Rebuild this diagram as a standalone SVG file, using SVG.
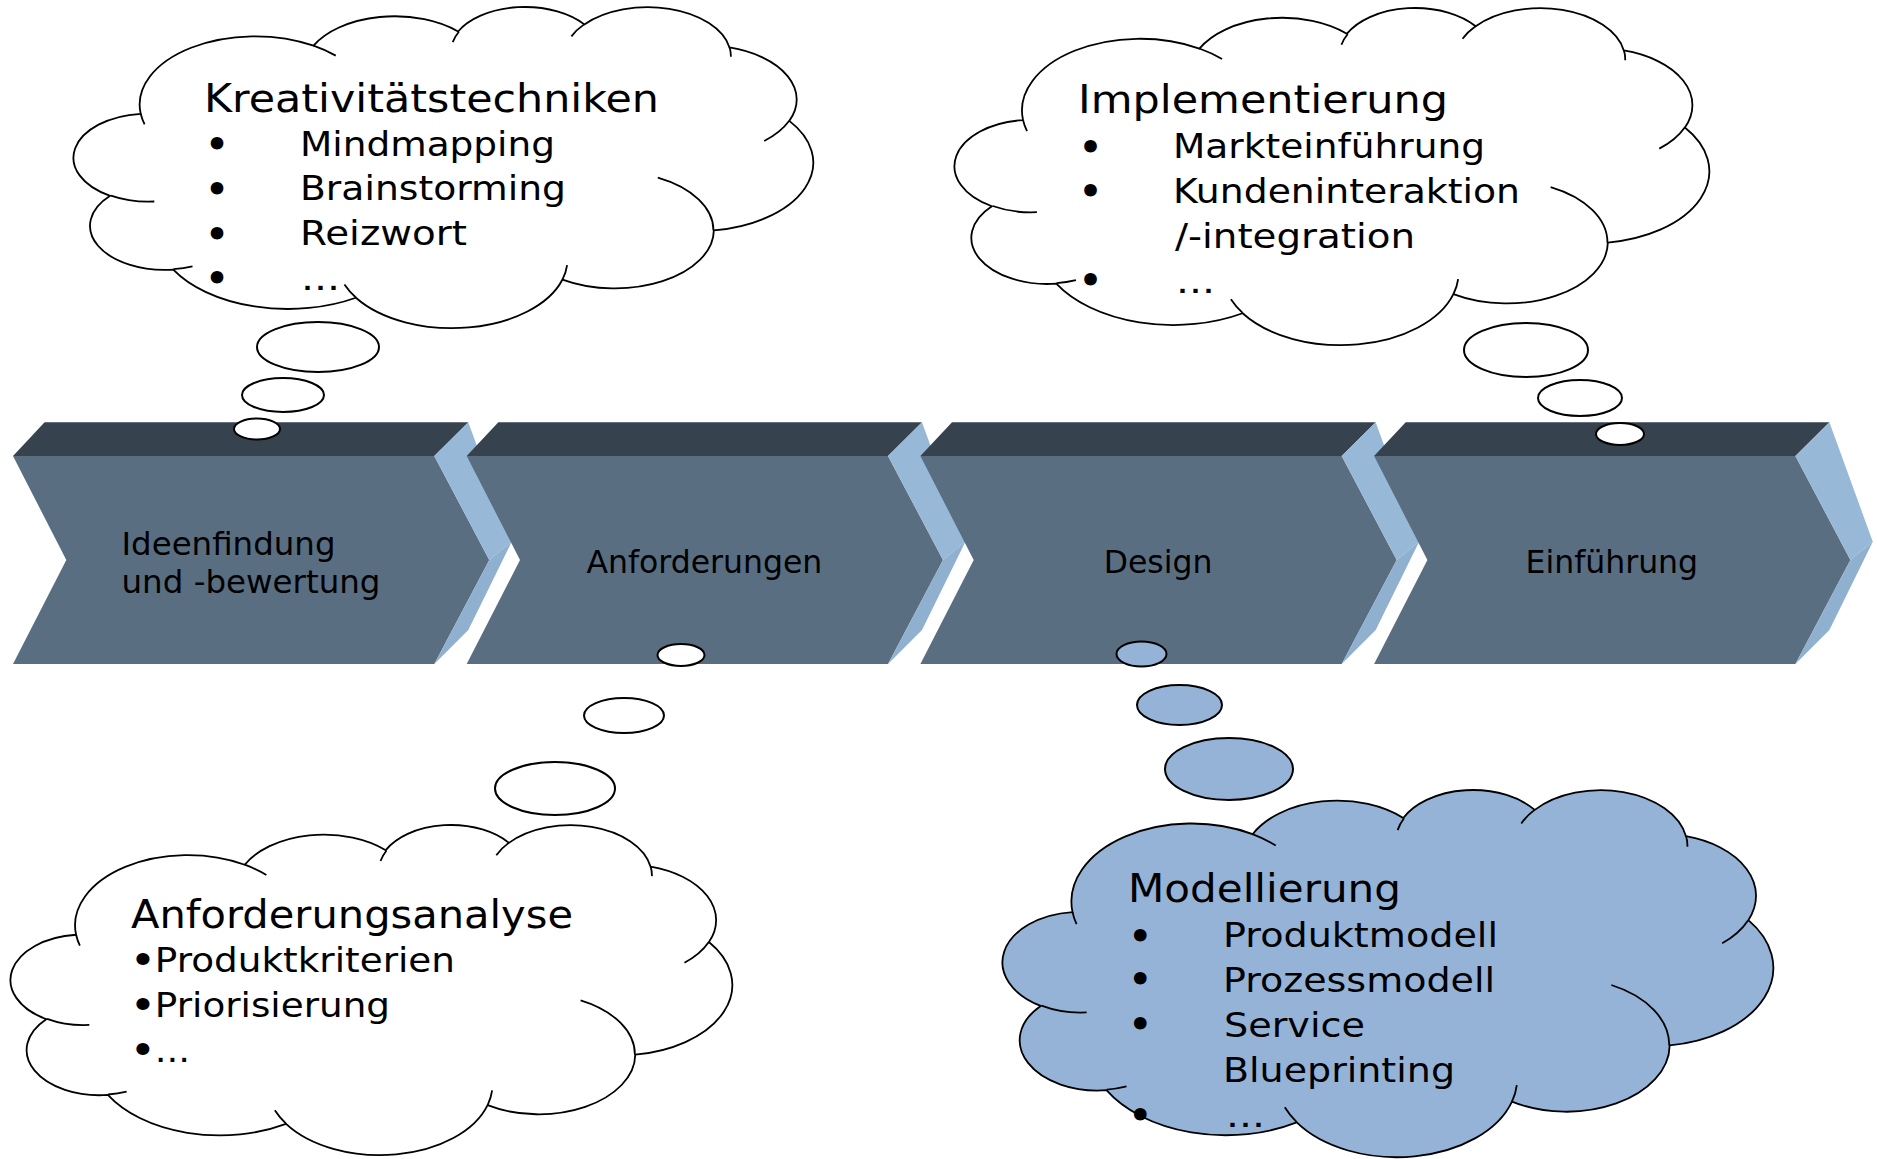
<svg xmlns="http://www.w3.org/2000/svg" width="1877" height="1159" viewBox="0 0 1877 1159">
<style>
text { font-family: "DejaVu Sans", Verdana, sans-serif; fill: #000; }
.lbl { font-size: 31.5px; }
.ttl { font-size: 39.5px; }
.itm { font-size: 34.5px; }
.bul { font-size: 36px; font-weight: bold; }
.front { fill: #5a6e82; }
.top { fill: #37424f; }
.side1 { fill: #97b8d7; }
.side2 { fill: #8fb0cf; }
.bub { stroke: #000; stroke-width: 2; }
.w { fill: #fff; }
.b { fill: #95b3d7; }
</style>
<defs>
<path id="cloud" vector-effect="non-scaling-stroke" stroke="#000" stroke-width="1.8" d="M3900,14370 A6753,9190 0 0 1 14004,5201 A5333,7267 0 0 1 22456,3293 A4365,5945 0 0 1 29834,2343 A4857,6595 0 0 1 38318,5441 A5333,7273 0 0 1 41817,15324 A6775,9220 0 0 1 37403,30067 A5785,7867 0 0 1 28555,36677 A6752,9215 0 0 1 16480,39131 A7720,10543 0 0 1 5805,35336 A4360,5918 0 0 1 2113,25415 A4345,5945 0 0 1 3900,14370 Z"/>
<path id="crease" vector-effect="non-scaling-stroke" fill="none" stroke="#000" stroke-width="1.8" d="M4693,26177 A4345,5945 0 0 1 2160,25380 M6928,34899 A4360,5918 0 0 1 5820,35281 M16478,39090 A6752,9215 0 0 1 15809,37348 M28827,34751 A6752,9215 0 0 1 28560,36660 M34129,22954 A5785,7867 0 0 1 37380,30090 M41798,15354 A5333,7273 0 0 1 40350,18030 M38324,5426 A4857,6595 0 0 1 38400,6690 M29078,3952 A4857,6595 0 0 1 29821,2338 M22141,4720 A4365,5945 0 0 1 22500,3330 M14000,5192 A6753,9190 0 0 1 15301,6540 M4127,15789 A6753,9190 0 0 1 3900,14370"/>
<g id="chev">
<polygon class="front" points="0,456 421.3,456 476.3,560 421.3,664 0,664 53.3,560"/>
<polygon class="top" points="0,456 31.6,422.3 455.3,422.3 421.3,456"/>
<polygon class="side1" points="421.3,456 455.3,422.3 498.7,541.7 476.3,560"/>
<polygon class="side2" points="476.3,560 498.7,541.7 455.3,630 421.3,664"/>
</g>
</defs>

<g id="connectors"></g>

<g id="step-ideenfindung" transform="translate(13,0)">
<use href="#chev"/>
<text class="lbl" x="108.5" y="555" textLength="214" lengthAdjust="spacingAndGlyphs">Ideenfindung</text>
<text class="lbl" x="108.5" y="593" textLength="259" lengthAdjust="spacingAndGlyphs">und -bewertung</text>
</g>
<g id="step-anforderungen" transform="translate(466.7,0)">
<use href="#chev"/>
<text class="lbl" x="237.7" y="573" text-anchor="middle">Anforderungen</text>
</g>
<g id="step-design" transform="translate(920.4,0)">
<use href="#chev"/>
<text class="lbl" x="237.7" y="573" text-anchor="middle">Design</text>
</g>
<g id="step-einfuehrung" transform="translate(1374.1,0)">
<use href="#chev"/>
<text class="lbl" x="237.7" y="573" text-anchor="middle">Einführung</text>
</g>

<g id="cloud-kreativitaet">
<g transform="translate(74,7) scale(0.017106,0.0074306)">
<use href="#cloud" class="w"/>
<use href="#crease"/>
</g>
<ellipse class="bub w" cx="318" cy="347" rx="61" ry="25"/>
<ellipse class="bub w" cx="283" cy="395" rx="41" ry="17"/>
<ellipse class="bub w" cx="257" cy="429" rx="23" ry="10.5"/>
<text class="ttl" x="204" y="111.7" textLength="455" lengthAdjust="spacingAndGlyphs">Kreativitätstechniken</text>
<text class="bul" x="205.4" y="156.9">•</text>
<text class="bul" x="205.4" y="201.9">•</text>
<text class="bul" x="205.4" y="246.6">•</text>
<text class="bul" x="205.4" y="290.9">•</text>
<text class="itm" x="300" y="155.7" textLength="255" lengthAdjust="spacingAndGlyphs">Mindmapping</text>
<text class="itm" x="300" y="200.3" textLength="266" lengthAdjust="spacingAndGlyphs">Brainstorming</text>
<text class="itm" x="300" y="245" textLength="167" lengthAdjust="spacingAndGlyphs">Reizwort</text>
<text class="itm" x="301" y="289.7" textLength="39" lengthAdjust="spacingAndGlyphs">...</text>
</g>

<g id="cloud-implementierung">
<g transform="translate(955,8) scale(0.017454,0.0078009)">
<use href="#cloud" class="w"/>
<use href="#crease"/>
</g>
<ellipse class="bub w" cx="1526" cy="350" rx="62" ry="27"/>
<ellipse class="bub w" cx="1580" cy="398" rx="42" ry="18"/>
<ellipse class="bub w" cx="1620" cy="434" rx="24" ry="11"/>
<text class="ttl" x="1078" y="112.7" textLength="370" lengthAdjust="spacingAndGlyphs">Implementierung</text>
<text class="bul" x="1079.1" y="159.6">•</text>
<text class="bul" x="1079.1" y="203.6">•</text>
<text class="bul" x="1079.1" y="292.6">•</text>
<text class="itm" x="1173" y="158.3" textLength="312" lengthAdjust="spacingAndGlyphs">Markteinführung</text>
<text class="itm" x="1173" y="203.3" textLength="347" lengthAdjust="spacingAndGlyphs">Kundeninteraktion</text>
<text class="itm" x="1175" y="247.7" textLength="240" lengthAdjust="spacingAndGlyphs">/-integration</text>
<text class="itm" x="1176" y="292.5" textLength="39" lengthAdjust="spacingAndGlyphs">...</text>
</g>

<g id="cloud-anforderungsanalyse">
<g transform="translate(11,825) scale(0.016690,0.0076389)">
<use href="#cloud" class="w"/>
<use href="#crease"/>
</g>
<ellipse class="bub w" cx="681" cy="655" rx="23.5" ry="11"/>
<ellipse class="bub w" cx="624" cy="715.5" rx="40" ry="17.5"/>
<ellipse class="bub w" cx="555" cy="788.5" rx="60" ry="26.5"/>
<text class="ttl" x="131" y="928.3" textLength="442" lengthAdjust="spacingAndGlyphs">Anforderungsanalyse</text>
<text class="itm" x="131" y="971.7" textLength="324" lengthAdjust="spacingAndGlyphs"><tspan font-weight="bold">•</tspan>Produktkriterien</text>
<text class="itm" x="131" y="1016.7" textLength="259" lengthAdjust="spacingAndGlyphs"><tspan font-weight="bold">•</tspan>Priorisierung</text>
<text class="itm" x="131" y="1061.7" textLength="59" lengthAdjust="spacingAndGlyphs"><tspan font-weight="bold">•</tspan>...</text>
</g>

<g id="cloud-modellierung">
<g transform="translate(1003,790) scale(0.017824,0.0084954)">
<use href="#cloud" class="b"/>
<use href="#crease"/>
</g>
<ellipse class="bub b" cx="1141.5" cy="654" rx="25" ry="12.5"/>
<ellipse class="bub b" cx="1179.5" cy="705" rx="42.5" ry="20"/>
<ellipse class="bub b" cx="1229" cy="769" rx="64" ry="31"/>
<text class="ttl" x="1128" y="901.7" textLength="273" lengthAdjust="spacingAndGlyphs">Modellierung</text>
<text class="bul" x="1128.8" y="949.3">•</text>
<text class="bul" x="1128.8" y="991.9">•</text>
<text class="bul" x="1128.8" y="1036.9">•</text>
<text class="bul" x="1128.8" y="1127.6">•</text>
<text class="itm" x="1223" y="947.3" textLength="275" lengthAdjust="spacingAndGlyphs">Produktmodell</text>
<text class="itm" x="1223" y="991.7" textLength="272" lengthAdjust="spacingAndGlyphs">Prozessmodell</text>
<text class="itm" x="1224" y="1036.7" textLength="141" lengthAdjust="spacingAndGlyphs">Service</text>
<text class="itm" x="1223" y="1081.7" textLength="232" lengthAdjust="spacingAndGlyphs">Blueprinting</text>
<text class="itm" x="1226" y="1126.7" textLength="39" lengthAdjust="spacingAndGlyphs">...</text>
</g>
</svg>
